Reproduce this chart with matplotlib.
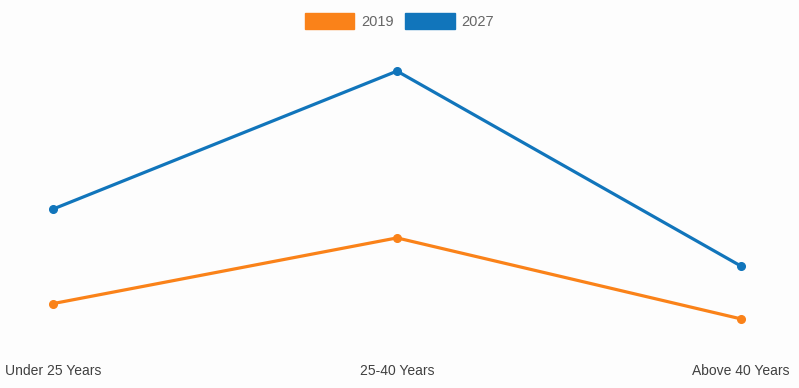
import matplotlib.pyplot as plt
from matplotlib.patches import Patch

plt.rcParams['font.family'] = ['Liberation Sans', 'DejaVu Sans']

categories = ['Under 25 Years', '25-40 Years', 'Above 40 Years']
series_names = ['2019', '2027']
values_2019 = [13.8, 35.7, 8.7]
values_2027 = [45.3, 91.3, 26.3]
colors = ['#fa8219', '#1175bb']

W, H = 799, 388
fig = plt.figure(figsize=(W / 100, H / 100), dpi=100, facecolor='#fdfdfd')
# plot area in pixel coords: x 53..741, y 45..345
ax = fig.add_axes([53 / W, (H - 345) / H, (741 - 53) / W, 300 / H])
ax.set_facecolor('#fdfdfd')

x = list(range(len(categories)))
for vals, name, c in zip([values_2019, values_2027], series_names, colors):
    ax.plot(x, vals, color=c, lw=2.3, marker='o', ms=5.5, clip_on=False, label=name)

ax.set_xlim(0, 2)
ax.set_ylim(0, 100)
for s in ax.spines.values():
    s.set_visible(False)
ax.set_yticks([])
ax.set_xticks(x, categories)
ax.tick_params(axis='x', length=0, pad=14, labelsize=10, labelcolor='#404040')

handles = [Patch(facecolor=c, edgecolor=c) for c in colors]
fig.legend(handles, series_names, loc='upper center', bbox_to_anchor=(0.5, 1.0),
           ncol=2, frameon=False, fontsize=10.5, labelcolor='#666666',
           handlelength=3.4, handleheight=1.25, handletextpad=0.45, columnspacing=0.8)

fig.savefig('out.png', dpi=100, facecolor=fig.get_facecolor())
